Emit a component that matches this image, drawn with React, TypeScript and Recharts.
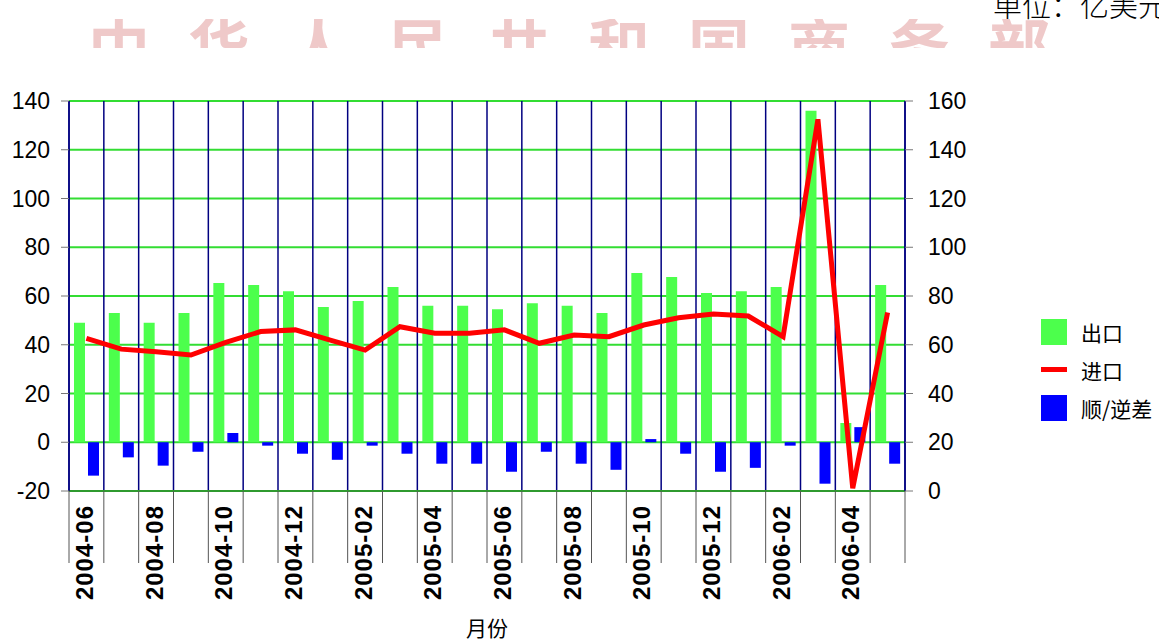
import React from 'react'
import {
  ComposedChart,
  Bar,
  Line,
  XAxis,
  YAxis,
  CartesianGrid,
} from 'recharts'

const months = [
  '2004-06', '2004-07', '2004-08', '2004-09', '2004-10', '2004-11',
  '2004-12', '2005-01', '2005-02', '2005-03', '2005-04', '2005-05',
  '2005-06', '2005-07', '2005-08', '2005-09', '2005-10', '2005-11',
  '2005-12', '2006-01', '2006-02', '2006-03', '2006-04', '2006-05',
]

// 出口 (left axis)
const exportsValues = [
  49, 53, 49, 53, 65.3, 64.5, 62, 55.5, 58, 63.7, 56, 56,
  54.6, 57, 56, 53, 69.4, 67.8, 61.2, 62, 63.7, 136, 7.9, 64.5,
]

// 进口 (right axis)
const importsValues = [
  62.6, 58.2, 57.1, 55.8, 61, 65.4, 66.1, 61.9, 57.8, 67.4, 64.7, 64.7,
  66.1, 60.6, 64, 63.3, 68.1, 71.1, 72.6, 71.8, 63.3, 152.5, 1.1, 73.2,
]

// 顺/逆差 (left axis)
const balanceValues = [
  -13.7, -6.2, -9.6, -3.9, 3.8, -1.4, -4.7, -7.2, -1.4, -4.7, -8.8, -8.8,
  -12.1, -3.9, -8.8, -11.3, 1.3, -4.7, -12.1, -10.5, -1.4, -17, 6.2, -8.8,
]

const leftTicks = [-20, 0, 20, 40, 60, 80, 100, 120, 140]
const rightTicks = [0, 20, 40, 60, 80, 100, 120, 140, 160]

const data = months.map((m, i) => ({
  month: m,
  exp: exportsValues[i],
  imp: importsValues[i],
  bal: balanceValues[i],
}))

const WIDTH = 1159
const HEIGHT = 640
const LEFT_AXIS_W = 69
const RIGHT_AXIS_W = 60
const MARGIN = { top: 101, right: 194, bottom: 0, left: 0 }
const PLOT_W = WIDTH - MARGIN.left - MARGIN.right - LEFT_AXIS_W - RIGHT_AXIS_W
const BAND = PLOT_W / months.length

const GREEN = '#4cff4c'
const BLUE = '#0000ff'
const RED = '#ff0000'
const NAVY = '#000080'
const GRID_GREEN = '#33dd33'
const NUM_FONT = '"Liberation Sans", Arial, sans-serif'
const CJK_FONT = '"Noto Sans CJK SC", sans-serif'

const MonthTick = (props: any) => {
  const { x, y, payload, index } = props
  const left = x - BAND / 2
  const isLast = index === months.length - 1
  return (
    <g>
      <line x1={left} x2={left} y1={y} y2={y + 72} stroke="#555" strokeWidth={1} />
      {isLast && (
        <line x1={left + BAND} x2={left + BAND} y1={y} y2={y + 72} stroke="#555" strokeWidth={1} />
      )}
      {index % 2 === 0 && (
        <text
          x={x - 2}
          y={y + 14}
          transform={`rotate(-90, ${x - 2}, ${y + 14})`}
          textAnchor="end"
          dy="0.36em"
          fontFamily={NUM_FONT}
          fontSize={24}
          fontWeight="bold"
          letterSpacing={1}
          fill="#000"
        >
          {payload.value}
        </text>
      )}
    </g>
  )
}

const legendItems = [
  { label: '出口', kind: 'box', color: GREEN },
  { label: '进口', kind: 'line', color: RED },
  { label: '顺/逆差', kind: 'box', color: BLUE },
]

const boundaries = ({ offset }: any) =>
  months
    .map((_, i) => offset.left + (i * offset.width) / months.length)
    .concat(offset.left + offset.width)

export default function App() {
  return (
    <div
      style={{
        position: 'absolute',
        left: 0,
        top: 0,
        width: WIDTH,
        height: HEIGHT,
        background: '#fff',
        overflow: 'hidden',
      }}
    >
      {/* faded header banner */}
      <div
        style={{
          position: 'absolute',
          left: 0,
          top: 19,
          width: 1100,
          height: 29,
          overflow: 'hidden',
        }}
      >
        <div
          style={{
            position: 'absolute',
            left: 88,
            top: -6,
            fontFamily: CJK_FONT,
            fontSize: 62,
            lineHeight: 1,
            letterSpacing: 38,
            color: '#efc9c9',
            whiteSpace: 'nowrap',
            fontWeight: 'bold',
          }}
        >
          中华人民共和国商务部
        </div>
      </div>
      <div
        style={{
          position: 'absolute',
          left: 993,
          top: -13,
          fontFamily: CJK_FONT,
          fontSize: 29,
          fontWeight: 300,
          lineHeight: 1.2,
          whiteSpace: 'nowrap',
          color: '#000',
        }}
      >
        单位：亿美元
      </div>

      <ComposedChart
        width={WIDTH}
        height={HEIGHT}
        data={data}
        margin={MARGIN}
        barSize={11}
        barGap={3}
      >
        <CartesianGrid
          yAxisId="left"
          vertical={false}
          stroke={GRID_GREEN}
          strokeWidth={2}
        />
        <CartesianGrid
          yAxisId="left"
          horizontal={false}
          stroke={NAVY}
          strokeWidth={1.5}
          verticalCoordinatesGenerator={boundaries}
        />
        <XAxis
          dataKey="month"
          height={149}
          interval={0}
          tickLine={false}
          tickSize={0}
          tickMargin={0}
          axisLine={{ stroke: '#2f9a2f', strokeWidth: 2 }}
          tick={<MonthTick />}
          label={{
            value: '月份',
            position: 'insideBottom',
            offset: 4,
            style: { fontFamily: CJK_FONT, fontSize: 21, fill: '#000' },
          }}
        />
        <YAxis
          yAxisId="left"
          width={LEFT_AXIS_W}
          domain={[-20, 140]}
          ticks={leftTicks}
          interval={0}
          allowDataOverflow
          axisLine={{ stroke: NAVY, strokeWidth: 1.5 }}
          tickLine={{ stroke: '#777' }}
          tickSize={8}
          tickMargin={11}
          tick={{ fill: '#000', fontSize: 23, fontFamily: NUM_FONT }}
        />
        <YAxis
          yAxisId="right"
          orientation="right"
          width={RIGHT_AXIS_W}
          domain={[0, 160]}
          ticks={rightTicks}
          interval={0}
          allowDataOverflow
          axisLine={{ stroke: NAVY, strokeWidth: 1.5 }}
          tickLine={{ stroke: '#777' }}
          tickSize={8}
          tickMargin={15}
          tick={{ fill: '#000', fontSize: 23, fontFamily: NUM_FONT, textAnchor: 'start' }}
        />
        <Bar yAxisId="left" dataKey="exp" fill={GREEN} isAnimationActive={false} />
        <Bar yAxisId="left" dataKey="bal" fill={BLUE} isAnimationActive={false} />
        <Line
          yAxisId="right"
          type="linear"
          dataKey="imp"
          stroke={RED}
          strokeWidth={5}
          dot={false}
          activeDot={false}
          isAnimationActive={false}
        />
      </ComposedChart>

      {/* legend */}
      <div style={{ position: 'absolute', left: 1041, top: 318 }}>
        {legendItems.map((item, i) => (
          <div
            key={item.label}
            style={{
              position: 'absolute',
              left: 0,
              top: i * 38,
              height: 27,
              display: 'flex',
              alignItems: 'center',
              whiteSpace: 'nowrap',
            }}
          >
            {item.kind === 'box' ? (
              <div style={{ width: 26, height: 26, background: item.color }} />
            ) : (
              <div style={{ width: 26, height: 26, display: 'flex', alignItems: 'center' }}>
                <div style={{ width: 26, height: 5, background: item.color }} />
              </div>
            )}
            <span
              style={{
                marginLeft: 14,
                fontFamily: CJK_FONT,
                fontSize: 21,
                color: '#000',
              }}
            >
              {item.label}
            </span>
          </div>
        ))}
      </div>
    </div>
  )
}
